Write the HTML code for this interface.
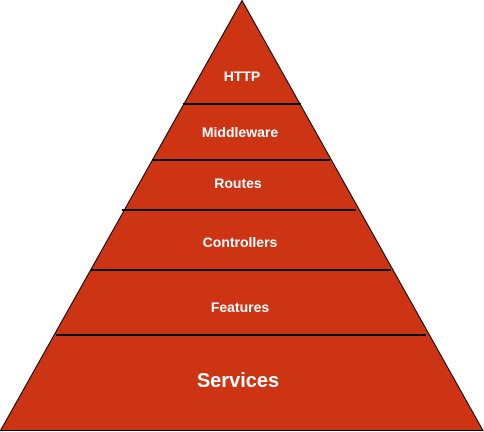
<!DOCTYPE html>
<html><head><style>body{margin:0;background:#fff}svg{display:block}</style></head><body>
<svg width="484" height="432" viewBox="0 0 484 432" xmlns="http://www.w3.org/2000/svg">
<polygon points="242,0.5 483,430.5 0.5,430.5" fill="#CD3414" stroke="#000" stroke-width="1"/>
<g stroke="#000" stroke-width="2">
<line x1="183" y1="104" x2="301" y2="104"/>
<line x1="152" y1="160" x2="330" y2="160"/>
<line x1="122" y1="210" x2="356" y2="210"/>
<line x1="91" y1="270" x2="391" y2="270"/>
<line x1="56" y1="335" x2="426" y2="335"/>
</g>
<g fill="#fff" font-family="Liberation Sans, sans-serif" font-weight="bold" font-size="14" text-anchor="middle">
<text x="242" y="81">HTTP</text>
<text x="240" y="137">Middleware</text>
<text x="238" y="188">Routes</text>
<text x="240" y="247">Controllers</text>
<text x="240" y="312">Features</text>
<text x="238" y="387" font-size="20">Services</text>
</g>
</svg>
</body></html>
